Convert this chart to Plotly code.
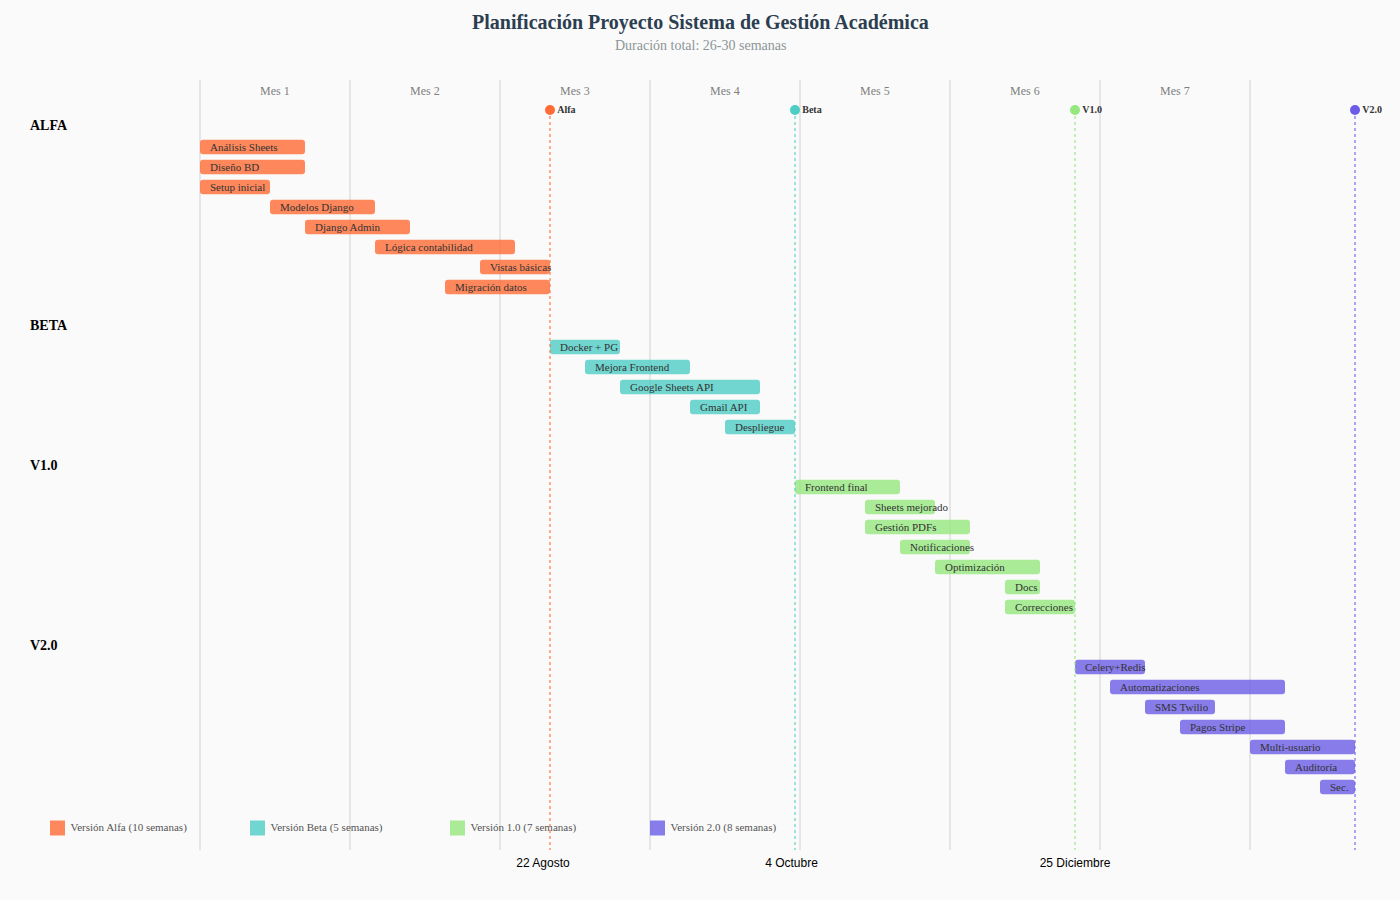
import plotly.graph_objects as go

# ---------------- data ----------------
phases = ["ALFA", "BETA", "V1.0", "V2.0"]
phase_colors = ["#FF6B35", "#4ECDC4", "#95E77E", "#6C5CE7"]
legend_labels = ["Versión Alfa (10 semanas)", "Versión Beta (5 semanas)",
                 "Versión 1.0 (7 semanas)", "Versión 2.0 (8 semanas)"]

alfa_tasks = ["Análisis Sheets", "Diseño BD", "Setup inicial", "Modelos Django",
              "Django Admin", "Lógica contabilidad", "Vistas básicas", "Migración datos"]
alfa_start = [0, 0, 0, 2, 3, 5, 8, 7]          # semanas
alfa_end = [3, 3, 2, 5, 6, 9, 10, 10]

beta_tasks = ["Docker + PG", "Mejora Frontend", "Google Sheets API", "Gmail API", "Despliegue"]
beta_start = [10, 11, 12, 14, 15]
beta_end = [12, 14, 16, 16, 17]

v1_tasks = ["Frontend final", "Sheets mejorado", "Gestión PDFs", "Notificaciones",
            "Optimización", "Docs", "Correcciones"]
v1_start = [17, 19, 19, 20, 21, 23, 23]
v1_end = [20, 21, 22, 22, 24, 24, 25]

v2_tasks = ["Celery+Redis", "Automatizaciones", "SMS Twilio", "Pagos Stripe",
            "Multi-usuario", "Auditoría", "Sec."]
v2_start = [25, 26, 27, 28, 30, 31, 32]
v2_end = [27, 31, 29, 31, 33, 33, 33]

milestone_names = ["Alfa", "Beta", "V1.0", "V2.0"]
milestone_weeks = [10, 17, 25, 33]

month_labels = ["Mes 1", "Mes 2", "Mes 3", "Mes 4", "Mes 5", "Mes 6", "Mes 7"]
days_per_month = 30

tick_weeks = [9.8, 16.9, 25.0]
tick_labels = ["22 Agosto", "4 Octubre", "25 Diciembre"]

title = "Planificación Proyecto Sistema de Gestión Académica"
subtitle = "Duración total: 26-30 semanas"

# ---------------- helpers ----------------
def rgba(hex_color, a):
    h = hex_color.lstrip("#")
    r, g, b = int(h[0:2], 16), int(h[2:4], 16), int(h[4:6], 16)
    return f"rgba({r},{g},{b},{a})"

SERIF = "Liberation Serif, Times New Roman, serif"
SANS = "Liberation Sans, Arial, sans-serif"

groups = [
    (alfa_tasks, alfa_start, alfa_end),
    (beta_tasks, beta_start, beta_end),
    (v1_tasks, v1_start, v1_end),
    (v2_tasks, v2_start, v2_end),
]

fig = go.Figure()
annotations = []
shapes = []

# layout of rows
row = 0
header_rows = []
for gi, (tasks, starts, ends) in enumerate(groups):
    if gi > 0:
        row += 2
    header_rows.append(row - 1.1)
    rows = list(range(row, row + len(tasks)))
    row += len(tasks)
    color = phase_colors[gi]
    fig.add_trace(go.Bar(
        orientation="h",
        y=rows,
        base=starts,
        x=[e - s for s, e in zip(starts, ends)],
        width=0.72,
        marker=dict(color=rgba(color, 0.8), line=dict(width=0)),
        hoverinfo="skip",
        showlegend=False,
    ))
    for t, s, r in zip(tasks, starts, rows):
        annotations.append(dict(
            x=s, y=r, xref="x", yref="y", text=t, showarrow=False,
            xanchor="left", yanchor="middle", xshift=8,
            font=dict(family=SERIF, size=11, color="#333333"),
        ))
    annotations.append(dict(
        x=-200 / 35 + 30 / 35, y=header_rows[-1], xref="x", yref="y",
        text=f"<b>{phases[gi]}</b>", showarrow=False, xanchor="left", yanchor="middle",
        xshift=-2,
        font=dict(family=SERIF, size=14, color="#000000"),
    ))

last_row = row - 1
Y_TOP = -3.35
Y_BOT = 35.15
ms_row = -1.85
month_row = -2.8
legend_row = last_row + 2.05

# month gridlines (every 30 days, axis in weeks)
for k in range(len(month_labels) + 1):
    xw = k * days_per_month / 7
    shapes.append(dict(type="line", xref="x", yref="paper", x0=xw, x1=xw, y0=0, y1=1,
                       line=dict(color="#E6E6E6", width=2), layer="below"))
for k, lab in enumerate(month_labels):
    xc = (k + 0.5) * days_per_month / 7
    annotations.append(dict(x=xc, y=month_row, xref="x", yref="y", text=lab, showarrow=False,
                            font=dict(family=SERIF, size=12, color="#7F7F7F")))

# milestones
for name, w, c in zip(milestone_names, milestone_weeks, phase_colors):
    shapes.append(dict(type="line", xref="x", yref="y", x0=w, x1=w, y0=ms_row, y1=Y_BOT,
                       line=dict(color=rgba(c, 0.55), width=2, dash="dot"), layer="above"))
fig.add_trace(go.Scatter(
    x=milestone_weeks, y=[ms_row] * len(milestone_weeks), mode="markers+text",
    marker=dict(size=10, color=phase_colors),
    text=[f"<b>{n}</b>" for n in milestone_names], textposition="middle right",
    textfont=dict(family=SERIF, size=10, color="#333333"),
    hoverinfo="skip", showlegend=False, cliponaxis=False,
))

# legend (bottom-left)
legend_x = [(-150 + 200 * i) / 35 for i in range(len(legend_labels))]
fig.add_trace(go.Scatter(
    x=[x + 7.5 / 35 for x in legend_x], y=[legend_row] * len(legend_labels), mode="markers+text",
    marker=dict(size=15, symbol="square", color=[rgba(c, 0.8) for c in phase_colors]),
    text=[" " + t for t in legend_labels], textposition="middle right",
    textfont=dict(family=SERIF, size=11, color="#555555"),
    hoverinfo="skip", showlegend=False, cliponaxis=False,
))

# title
annotations.append(dict(x=0.5, y=(850 - 22) / 770, xref="paper", yref="paper",
                        text=f"<b>{title}</b>", showarrow=False, yanchor="middle",
                        font=dict(family=SERIF, size=20, color="#2C3E50")))
annotations.append(dict(x=0.5, y=(850 - 45) / 770, xref="paper", yref="paper",
                        text=subtitle, showarrow=False, yanchor="middle",
                        font=dict(family=SERIF, size=14, color="#8C9596")))

fig.update_layout(
    width=1400, height=900,
    margin=dict(l=0, r=0, t=80, b=50),
    paper_bgcolor="#FAFAFA", plot_bgcolor="#FAFAFA",
    barmode="overlay", barcornerradius=3,
    showlegend=False,
    xaxis=dict(range=[-200 / 35, 1200 / 35], showgrid=False, zeroline=False, showline=False,
               tickmode="array", tickvals=tick_weeks, ticktext=tick_labels, ticks="",
               ticklabelstandoff=4,
               tickfont=dict(family=SANS, size=12, color="#000000"), fixedrange=True),
    yaxis=dict(range=[Y_BOT, Y_TOP], showgrid=False, zeroline=False, showline=False,
               showticklabels=False, fixedrange=True),
    annotations=annotations,
    shapes=shapes,
)

fig.write_html(
    "out.html",
    config={"displayModeBar": False},
    post_script="document.body.style.margin='0';document.body.style.background='#FAFAFA';",
)
